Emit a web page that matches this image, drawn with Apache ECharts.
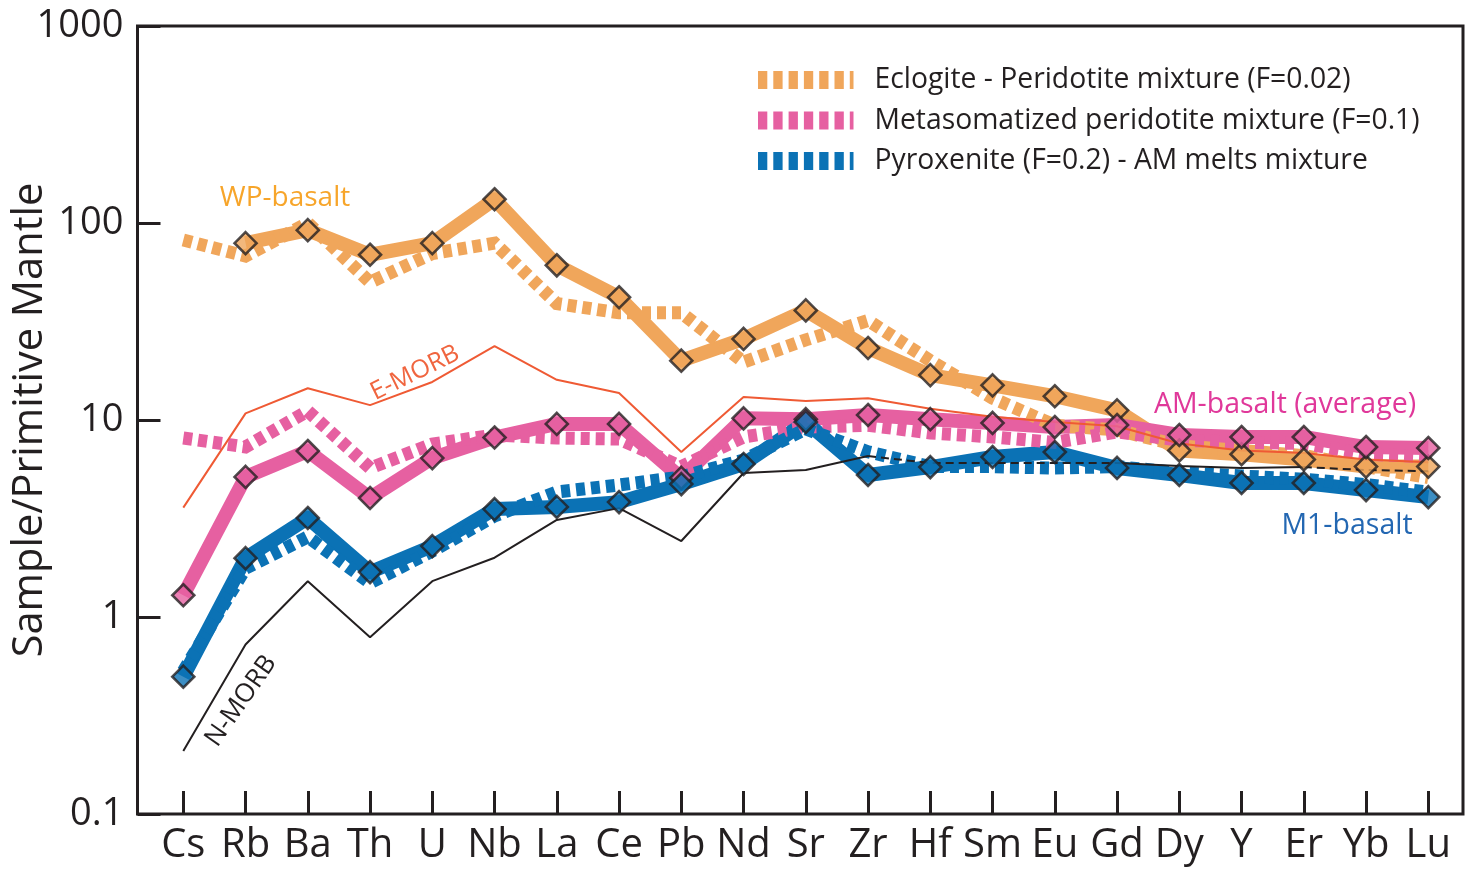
<!DOCTYPE html>
<html>
<head>
<meta charset="utf-8">
<script src="https://cdn.jsdelivr.net/npm/echarts@6/dist/echarts.min.js"></script>
<style>
  html, body { margin: 0; padding: 0; background: #ffffff; }
  #chart { width: 1465px; height: 871px; }
</style>
</head>
<body>
<div id="chart"></div>
<script>
// ---------- DATA ----------
const elements = ['Cs','Rb','Ba','Th','U','Nb','La','Ce','Pb','Nd','Sr','Zr','Hf','Sm','Eu','Gd','Dy','Y','Er','Yb','Lu'];
const yTickLabels = [0.1, 1, 10, 100, 1000];

const wpBasalt    = [null, 79, 92, 69, 79, 132, 61, 42, 20, 25.8, 36, 23.2, 16.9, 15.0, 13.2, 11.2, 7.0, 6.7, 6.3, 5.8, 5.8];
const eclogiteMix = [82, 68, 100, 50, 70, 79, 39, 35, 35, 19.7, 25.5, 32, 20, 12.9, 9.4, 8.9, 7.4, 7.0, 6.6, 5.8, 5.1];
const amBasalt    = [1.29, 5.14, 6.96, 4.02, 6.41, 8.15, 9.55, 9.55, 5.08, 10.2, 10.1, 10.6, 10.1, 9.66, 9.21, 9.43, 8.39, 8.2, 8.2, 7.29, 7.21];
const metaMix     = [8.1, 7.3, 11.1, 5.7, 7.55, 8.4, 8.1, 8.0, 5.8, 8.2, 9.2, 9.4, 8.6, 8.2, 7.7, 8.7, 7.9, 7.7, 7.6, 6.7, 6.5];
const m1Basalt    = [0.498, 1.99, 3.18, 1.69, 2.29, 3.53, 3.62, 3.83, 4.73, 5.98, 9.77, 5.26, 5.77, 6.49, 6.88, 5.71, 5.26, 4.79, 4.79, 4.41, 4.06];
const pyroxMix    = [0.53, 1.77, 2.55, 1.49, 2.16, 3.26, 4.31, 4.68, 5.14, 6.27, 9.0, 6.9, 5.8, 5.8, 5.7, 5.8, 5.4, 5.2, 5.0, 4.7, 4.3];
const eMorb       = [3.59, 10.8, 14.5, 11.9, 15.6, 23.7, 16.0, 13.7, 6.88, 13.1, 12.5, 12.9, 11.4, 10.4, 9.77, 9.3, 7.6, 7.0, 6.8, 6.3, 6.1];
const nMorb       = [0.209, 0.725, 1.52, 0.79, 1.52, 2.0, 3.11, 3.57, 2.43, 5.38, 5.57, 6.56, 6.05, 6.05, 6.05, 6.05, 5.84, 5.7, 5.77, 5.57, 5.5];

// ---------- STYLE ----------
const FONT = "'Open Sans', 'Noto Sans', sans-serif";
const INK = '#231F20';
const ORANGE = '#F0A65B';
const PINK = '#E660A1';
const BLUE = '#0B72B5';
const RED = '#EF5A34';

// N-MORB: parts drawn dashed (where it runs under the blue band)
function inRanges(i, ranges) { return ranges.some(r => i >= r[0] && i <= r[1]); }
const nDashedRanges = [[11, 15], [18, 20]];
const nSolidRanges = [[0, 11], [15, 18]];
const nMorbSolid = nMorb.map((v, i) => inRanges(i, nSolidRanges) ? v : null);
const nMorbDashed = nMorb.map((v, i) => inRanges(i, nDashedRanges) ? v : null);

// legend icon: 7 vertical bars, last one narrow
let legendPath = 'path://';
for (let i = 0; i < 6; i++) {
  const x = (i * 15.3).toFixed(1);
  legendPath += 'M' + x + ',0h9.3v18h-9.3Z';
}
legendPath += 'M91.8,0h3.7v18h-3.7Z';

const DASH = [9, 6];

function solidLine(name, data, color) {
  return {
    name, type: 'line', xAxisIndex: 1, yAxisIndex: 1, data,
    symbol: 'none', connectNulls: false, z: 2,
    itemStyle: { color, borderWidth: 0 },
    lineStyle: { color, width: 14, join: 'round', cap: 'butt' },
    silent: true
  };
}
function dashedLine(name, data, color) {
  return {
    name, type: 'line', xAxisIndex: 1, yAxisIndex: 1, data,
    symbol: 'none', z: 3,
    itemStyle: { color, borderWidth: 0 },
    lineStyle: { color, width: 13, type: DASH, cap: 'butt', join: 'miter' },
    silent: true
  };
}
function thinLine(name, data, color, dashed) {
  return {
    name, type: 'line', xAxisIndex: 1, yAxisIndex: 1, data,
    symbol: 'none', z: 4, connectNulls: false,
    itemStyle: { color },
    lineStyle: { color, width: 2, type: dashed ? [8, 5] : 'solid' },
    silent: true
  };
}
function markers(name, data, color) {
  return {
    name, type: 'scatter', xAxisIndex: 1, yAxisIndex: 1, data,
    symbol: 'diamond', symbolSize: 22, z: 6,
    itemStyle: { color, borderColor: INK, borderWidth: 2.6 },
    silent: true
  };
}

const chart = echarts.init(document.getElementById('chart'));
chart.setOption({
  animation: false,
  backgroundColor: '#ffffff',
  textStyle: { fontFamily: FONT },
  grid: [
    { left: 137.5, right: 2, top: 26, bottom: 57, show: true, borderColor: INK, borderWidth: 3, backgroundColor: 'transparent', containLabel: false, outerBoundsMode: 'none' },
    { left: 183.3, right: 36.7, top: 26, bottom: 57, containLabel: false, outerBoundsMode: 'none' }
  ],
  xAxis: [
    { gridIndex: 0, type: 'value', min: 0, max: 1, show: false },
    {
      gridIndex: 1, type: 'category', data: elements, boundaryGap: false,
      axisLine: { show: false },
      axisTick: { show: true, inside: true, length: 23, interval: 0, lineStyle: { color: INK, width: 3 } },
      axisLabel: { interval: 0, fontSize: 40, color: INK, margin: 12, fontFamily: FONT },
      splitLine: { show: false }
    }
  ],
  yAxis: [
    {
      gridIndex: 0, type: 'log', logBase: 10, min: 0.1, max: 1000,
      axisLine: { show: false },
      axisTick: { show: true, inside: true, length: 23, lineStyle: { color: INK, width: 3 } },
      axisLabel: {
        fontSize: 38, color: INK, margin: 14, fontFamily: FONT,
        formatter: v => { const t = yTickLabels.find(x => Math.abs(x - v) / x < 1e-6); return t === undefined ? '' : String(t); }
      },
      splitLine: { show: false },
      name: 'Sample/Primitive Mantle', nameLocation: 'middle', nameGap: 86, nameMoveOverlap: false,
      nameTextStyle: { fontSize: 41.5, color: INK, fontFamily: FONT }
    },
    { gridIndex: 1, type: 'log', logBase: 10, min: 0.1, max: 1000, show: false }
  ],
  legend: {
    data: ['Eclogite - Peridotite mixture (F=0.02)', 'Metasomatized peridotite mixture (F=0.1)', 'Pyroxenite (F=0.2) - AM melts mixture'],
    orient: 'vertical', left: 758, top: 65, padding: 0,
    icon: legendPath, itemWidth: 95.5, itemHeight: 18, itemGap: 10.5,
    selectedMode: false,
    itemStyle: { borderWidth: 0 },
    textStyle: { fontSize: 28.3, color: INK, fontFamily: FONT, lineHeight: 30, padding: [0, 0, 0, 16] }
  },
  graphic: [
    { type: 'text', x: 285, y: 198, style: { text: 'WP-basalt', fill: '#F7A52A', font: "28px " + FONT, align: 'center', verticalAlign: 'middle' }, z: 10 },
    { type: 'text', x: 415, y: 373, rotation: 26 * Math.PI / 180, style: { text: 'E-MORB', fill: '#F0653F', font: "25px " + FONT, align: 'center', verticalAlign: 'middle' }, z: 10 },
    { type: 'text', x: 241, y: 701, rotation: 55 * Math.PI / 180, style: { text: 'N-MORB', fill: INK, font: "26px " + FONT, align: 'center', verticalAlign: 'middle' }, z: 10 },
    { type: 'text', x: 1285, y: 405, style: { text: 'AM-basalt (average)', fill: '#E0389A', font: "28.5px " + FONT, align: 'center', verticalAlign: 'middle' }, z: 10 },
    { type: 'text', x: 1347, y: 526, style: { text: 'M1-basalt', fill: '#2367B2', font: "28.5px " + FONT, align: 'center', verticalAlign: 'middle' }, z: 10 }
  ],
  series: [
    solidLine('WP-basalt', wpBasalt, ORANGE),
    solidLine('AM-basalt (average)', amBasalt, PINK),
    solidLine('M1-basalt', m1Basalt, BLUE),
    dashedLine('Eclogite - Peridotite mixture (F=0.02)', eclogiteMix, ORANGE),
    dashedLine('Metasomatized peridotite mixture (F=0.1)', metaMix, PINK),
    dashedLine('Pyroxenite (F=0.2) - AM melts mixture', pyroxMix, BLUE),
    thinLine('E-MORB', eMorb, RED, false),
    thinLine('N-MORB', nMorbSolid, INK, false),
    thinLine('N-MORB (dashed part)', nMorbDashed, INK, true),
    markers('WP-basalt markers', wpBasalt, ORANGE),
    markers('AM-basalt markers', amBasalt, PINK),
    markers('M1-basalt markers', m1Basalt, BLUE)
  ]
});
</script>
</body>
</html>
